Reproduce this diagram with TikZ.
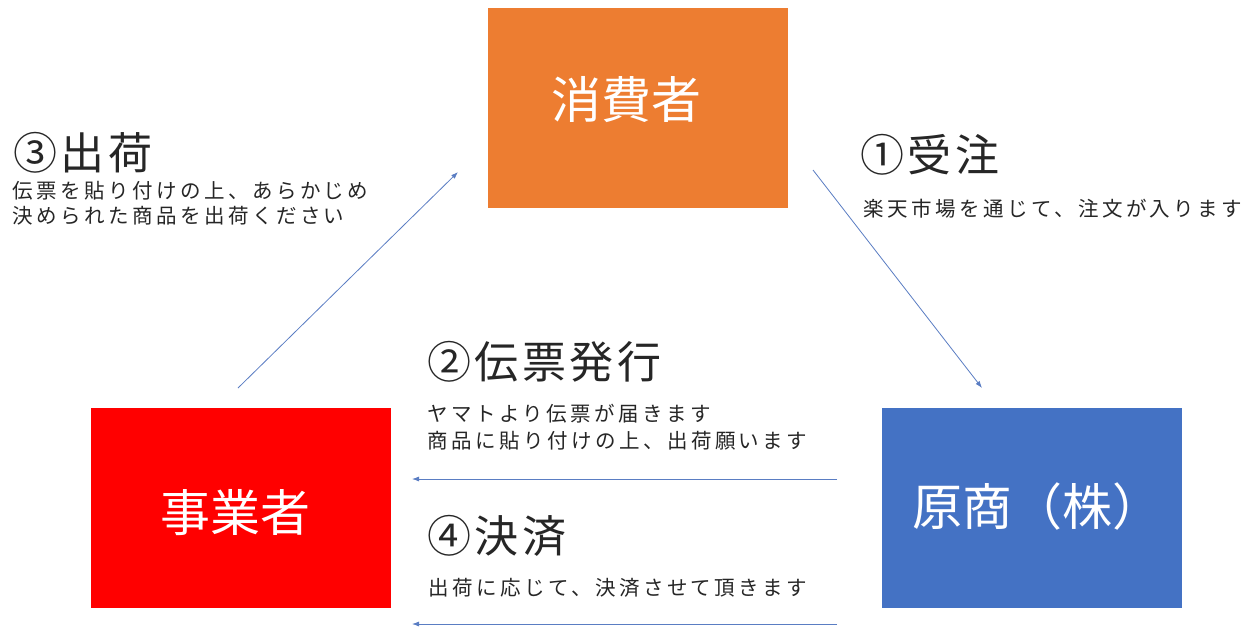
\documentclass[tikz,border=0pt]{standalone}
\usepackage{fontspec}
\setmainfont{Noto Sans CJK JP}
\newfontfamily\jpsub[LetterSpace=17]{Noto Sans CJK JP}
\newfontfamily\jphead[LetterSpace=8]{Noto Sans CJK JP}
\usetikzlibrary{arrows.meta}
\definecolor{orangebox}{RGB}{237,125,49}
\definecolor{redbox}{RGB}{255,0,0}
\definecolor{bluebox}{RGB}{68,114,196}
\definecolor{arrowblue}{RGB}{90,125,195}
\definecolor{txt}{RGB}{38,38,38}
\tikzset{
  party/.style={minimum width=300pt, minimum height=200pt, inner sep=0pt},
  partytext/.style={inner sep=0pt, text=white, font=\fontsize{50}{54}\selectfont},
  headtext/.style={anchor=west, inner sep=0pt, text=txt, font=\jphead\fontsize{44}{48}\selectfont},
  subtext/.style={anchor=west, inner sep=0pt, text=txt, font=\jpsub\fontsize{20.5}{24}\selectfont},
  flow/.style={draw=arrowblue, line width=0.8pt, -{Latex[length=7pt,width=5pt]}}
}
\begin{document}
\begin{tikzpicture}[x=1pt,y=-1pt]
\useasboundingbox (0,0) rectangle (1257,632);
\fill[white] (0,0) rectangle (1257,632);
\node[party, fill=orangebox] (cons) at (637.5,107.5) {};
\node[party, fill=redbox] (biz) at (241,508) {};
\node[party, fill=bluebox] (orig) at (1031.5,508) {};
\node[partytext] (consT) at (626,99.5) {消費者};
\node[partytext] (bizT) at (235,513) {事業者};
\node[partytext] (origT) at (1037,506.5) {原商（株）};

\node[headtext] (h3) at (13,152.5) {③出荷};
\node[subtext] (s3a) at (12,190.5) {伝票を貼り付けの上、あらかじめ};
\node[subtext] (s3b) at (12,215.5) {決められた商品を出荷ください};

\node[headtext] (h1) at (860,155) {①受注};
\node[subtext] (s1) at (863,208.5) {楽天市場を通じて、注文が入ります};

\node[headtext] (h2) at (427,362) {②伝票発行};
\node[subtext] (s2a) at (427,413.5) {ヤマトより伝票が届きます};
\node[subtext] (s2b) at (427,441) {商品に貼り付けの上、出荷願います};

\node[headtext] (h4) at (427,536) {④決済};
\node[subtext] (s4) at (428,587.5) {出荷に応じて、決済させて頂きます};

\coordinate (a1s) at (813,170);
\coordinate (a1e) at (982,388);
\coordinate (a3s) at (238,388);
\coordinate (a3e) at (458,172);
\coordinate (a2s) at (837,479);
\coordinate (a2e) at (412,479);
\coordinate (a4s) at (837,624);
\coordinate (a4e) at (412,624);

\draw[flow] (a1s) -- (a1e);
\draw[flow] (a3s) -- (a3e);
\draw[flow] (a2s) -- (a2e);
\draw[flow] (a4s) -- (a4e);
\end{tikzpicture}
\end{document}
